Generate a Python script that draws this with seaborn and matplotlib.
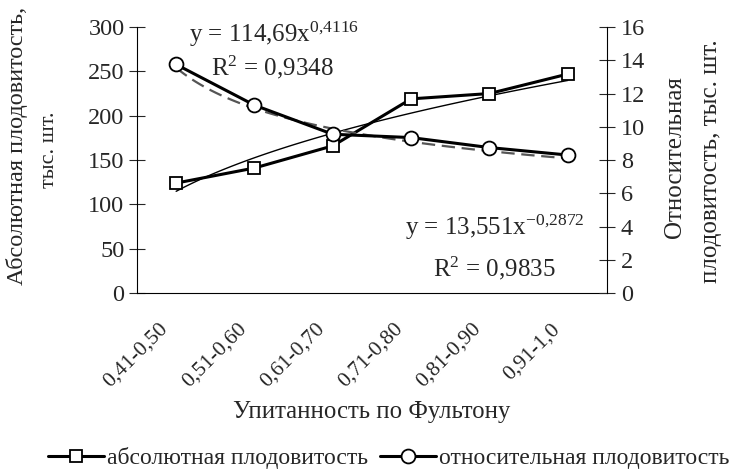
import numpy as np
import pandas as pd
import matplotlib
matplotlib.use('Agg')
import matplotlib.pyplot as plt
import matplotlib.transforms as mtransforms
import seaborn as sns
from matplotlib.lines import Line2D

# данные
categories = ['0,41-0,50', '0,51-0,60', '0,61-0,70', '0,71-0,80', '0,81-0,90', '0,91-1,0']
absolute = [124, 141, 166, 219, 225, 247]
relative = [13.75, 11.3, 9.55, 9.35, 8.75, 8.3]

# коэффициенты степенных трендов (из подписи на графике)
abs_a, abs_b = 114.69, 0.4116
rel_a, rel_b = 13.551, -0.2872

sns.set_theme(style='white')
plt.rcParams['font.family'] = ['Liberation Serif', 'DejaVu Serif']
plt.rcParams['mathtext.fontset'] = 'custom'
plt.rcParams['mathtext.rm'] = 'Liberation Serif'
plt.rcParams['mathtext.it'] = 'Liberation Serif'

df = pd.DataFrame({'x': np.arange(len(categories)), 'abs': absolute, 'rel': relative})

fig = plt.figure(figsize=(7.44, 4.69), dpi=100)
ax = fig.add_axes([0.1841, 0.3753, 0.6317, 0.567])
ax2 = ax.twinx()

# тренды
xt = np.linspace(1, 6, 100)
ax.plot(xt - 1, abs_a * xt ** abs_b, color='black', lw=1.0, zorder=2)
ax2.plot(xt - 1, rel_a * xt ** rel_b, color='#555555', lw=1.6, ls=(0, (6, 3)), zorder=2)

sns.lineplot(data=df, x='x', y='abs', ax=ax, color='black', lw=2.2, marker='s',
             markersize=9, markerfacecolor='white', markeredgecolor='black',
             markeredgewidth=1.3, sort=False, zorder=3)
sns.lineplot(data=df, x='x', y='rel', ax=ax2, color='black', lw=2.2, marker='o',
             markersize=10, markerfacecolor='white', markeredgecolor='black',
             markeredgewidth=1.3, sort=False, zorder=3)

ax.set_xlim(-0.5, len(categories) - 0.5)
ax.set_ylim(0, 300)
ax2.set_ylim(0, 16)
ax.set_yticks(range(0, 301, 50))
ax2.set_yticks(range(0, 17, 2))

ax.set_xticks(np.arange(-0.5, len(categories), 1.0))
ax.set_xticklabels([])
ax.set_xticks(np.arange(len(categories)), minor=True)
ax.set_xticklabels(categories, minor=True, rotation=45, ha='right', va='center',
                   rotation_mode='anchor', fontsize=15.5)
ax.tick_params(axis='x', which='minor', length=0, pad=24)
ax.tick_params(axis='x', which='major', direction='inout', length=12, width=0.8)
ax.tick_params(axis='y', direction='inout', length=12, width=0.8, labelsize=17.5, pad=3)
ax2.tick_params(axis='y', direction='inout', length=12, width=0.8, labelsize=17.5, pad=4)

shift = mtransforms.ScaledTranslation(-11 / 100, 0, fig.dpi_scale_trans)
for lab in ax.get_xticklabels(minor=True):
    lab.set_transform(lab.get_transform() + shift)

for a in (ax, ax2):
    a.spines['top'].set_visible(False)
    for s in ('left', 'right', 'bottom'):
        a.spines[s].set_color('black')
        a.spines[s].set_linewidth(0.8)
ax.spines['right'].set_visible(False)
ax2.spines['left'].set_visible(False)
ax2.spines['bottom'].set_visible(False)
ax.set_xlabel('')
ax.set_ylabel('')
ax2.set_ylabel('')

# подписи осей
fig.text(372 / 744, 1 - 412 / 469, 'Упитанность по Фультону', fontsize=17.8,
         ha='center', va='center')
fig.text(17 / 744, 1 - 146 / 469, 'Абсолютная плодовитость,', fontsize=17.5,
         rotation=90, ha='center', va='center')
fig.text(49 / 744, 1 - 150 / 469, 'тыс. шт.', fontsize=16,
         rotation=90, ha='center', va='center')
fig.text(675 / 744, 1 - 157 / 469, 'Относительная', fontsize=18,
         rotation=90, ha='center', va='center')
fig.text(711 / 744, 1 - 161 / 469, 'плодовитость, тыс. шт.', fontsize=18,
         rotation=90, ha='center', va='center')

# уравнения трендов
ax.text(1.25, 282.7, 'y = 114,69x$^{0{,}4116}$', fontsize=18, ha='center', va='baseline')
ax.text(1.23, 245.6, 'R$^{2}$ = 0,9348', fontsize=18, ha='center', va='baseline')
ax2.text(4.06, 3.5, 'y = 13,551x$^{-0{,}2872}$', fontsize=18, ha='center', va='baseline')
ax2.text(4.06, 0.98, 'R$^{2}$ = 0,9835', fontsize=18, ha='center', va='baseline')

handles = [
    Line2D([], [], color='black', lw=2.2, marker='s', markersize=9,
           markerfacecolor='white', markeredgewidth=1.3),
    Line2D([], [], color='black', lw=2.2, marker='o', markersize=10,
           markerfacecolor='white', markeredgewidth=1.3),
]
fig.legend(handles, ['абсолютная плодовитость', 'относительная плодовитость'],
           loc='center', bbox_to_anchor=(0.522, 1 - 458 / 469), ncol=2,
           frameon=False, fontsize=17, handlelength=2.4, handletextpad=0.1,
           columnspacing=0.5, borderpad=0, borderaxespad=0)

fig.savefig('out.png', dpi=100)
